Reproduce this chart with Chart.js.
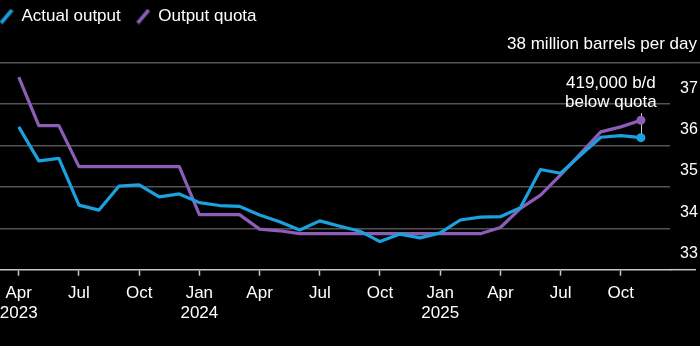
<!DOCTYPE html>
<html><head><meta charset="utf-8">
<style>html,body{margin:0;padding:0;background:#000;overflow:hidden}#wrap{width:700px;height:346px}</style>
<script src="https://cdn.jsdelivr.net/npm/chart.js@4.4.0/dist/chart.umd.min.js"></script>
</head><body><div id="wrap"><canvas id="c" width="700" height="346"></canvas></div>
<script>
const months = ['Apr 2023','May 2023','Jun 2023','Jul 2023','Aug 2023','Sep 2023','Oct 2023','Nov 2023','Dec 2023',
  'Jan 2024','Feb 2024','Mar 2024','Apr 2024','May 2024','Jun 2024','Jul 2024','Aug 2024','Sep 2024','Oct 2024','Nov 2024','Dec 2024',
  'Jan 2025','Feb 2025','Mar 2025','Apr 2025','May 2025','Jun 2025','Jul 2025','Aug 2025','Sep 2025','Oct 2025','Nov 2025'];
const actualOutput = [36.45,35.63,35.69,34.56,34.44,35.02,35.05,34.76,34.83,34.62,34.55,34.53,34.32,34.16,33.96,34.18,34.05,33.93,33.68,33.86,33.77,33.89,34.20,34.27,34.28,34.50,35.42,35.33,35.77,36.20,36.24,36.19];
const outputQuota = [37.65,36.48,36.48,35.49,35.49,35.49,35.49,35.49,35.49,34.33,34.33,34.33,33.98,33.94,33.87,33.87,33.87,33.87,33.87,33.87,33.87,33.87,33.87,33.87,34.02,34.48,34.80,35.29,35.81,36.33,36.45,36.61];
const seriesNames = ['Actual output','Output quota'];
const xTickIndex = [0,3,6,9,12,15,18,21,24,27,30];
const xTickLabels = [['Apr','2023'],'Jul','Oct',['Jan','2024'],'Apr','Jul','Oct',['Jan','2025'],'Apr','Jul','Oct'];
const yTicks = [33,34,35,36,37,38];
const unitLabel = '38 million barrels per day';
const gapNote = ['419,000 b/d','below quota'];

const BLUE = '#1ba1de', PURPLE = '#8d5db8';
const FONT = "'Liberation Sans', Arial, sans-serif";
const last = months.length - 1;

function slash(color){
  const c = document.createElement('canvas'); c.width = 14; c.height = 16;
  const g = c.getContext('2d'); g.strokeStyle = color; g.lineWidth = 3.6; g.lineCap = 'butt';
  g.beginPath(); g.moveTo(1.5,14.5); g.lineTo(12.5,1.5); g.stroke(); return c;
}
const slashes = [slash(BLUE), slash(PURPLE)];

const extras = {
  id: 'extras',
  afterLayout(chart){ chart.legend.left = -16; chart.legend.top = -8; },
  beforeDatasetsDraw(chart){
    const {ctx, chartArea, scales:{x, y}} = chart;
    ctx.save();
    const y38 = y.getPixelForValue(38), y33 = y.getPixelForValue(33);
    ctx.strokeStyle = '#545454'; ctx.lineWidth = 1.5;
    ctx.beginPath(); ctx.moveTo(chartArea.right, y38); ctx.lineTo(700, y38); ctx.stroke();
    ctx.strokeStyle = '#c8c8c8';
    ctx.beginPath(); ctx.moveTo(chartArea.right, y33); ctx.lineTo(696, y33); ctx.stroke();
    ctx.fillStyle = '#fff'; ctx.font = '17px ' + FONT; ctx.textAlign = 'right'; ctx.textBaseline = 'middle';
    ctx.fillText(unitLabel, 697, y38 - 18);
    const px = x.getPixelForValue(last);
    const yA = y.getPixelForValue(actualOutput[last]);
    const yTop = y.getPixelForValue(37) + 9;
    ctx.strokeStyle = '#cfcfcf'; ctx.lineWidth = 1;
    ctx.beginPath(); ctx.moveTo(Math.round(px)+0.5, yTop); ctx.lineTo(Math.round(px)+0.5, yA); ctx.stroke();
    ctx.textAlign = 'center';
    ctx.fillText(gapNote[0], px - 30, y.getPixelForValue(37) - 21);
    ctx.fillText(gapNote[1], px - 30, y.getPixelForValue(37) - 2);
    ctx.restore();
  }
};

const ptR = (ctx) => ctx.dataIndex === last ? 4.5 : 0;

new Chart(document.getElementById('c'), {
  type: 'line',
  data: {
    datasets: [
      {label: seriesNames[0], data: actualOutput.map((v,i)=>({x:i,y:v})), borderColor: BLUE, backgroundColor: BLUE,
       borderWidth: 3.2, pointRadius: ptR, pointBorderWidth: 0, tension: 0, borderJoinStyle: 'round'},
      {label: seriesNames[1], data: outputQuota.map((v,i)=>({x:i,y:v})), borderColor: PURPLE, backgroundColor: PURPLE,
       borderWidth: 3.2, pointRadius: ptR, pointBorderWidth: 0, tension: 0, borderJoinStyle: 'round'}
    ]
  },
  options: {
    responsive: false, animation: false, devicePixelRatio: 1, events: [],
    layout: {autoPadding: false, padding: {top: 19.7, left: 0, right: 0, bottom: 0}},
    plugins: {
      tooltip: {enabled: false},
      legend: {
        position: 'top', align: 'start',
        labels: {
          usePointStyle: true, pointStyleWidth: 13, padding: 16, color: '#fff',
          font: {family: FONT, size: 17},
          generateLabels(chart){
            return chart.data.datasets.map((d,i)=>({text: d.label, fontColor: '#fff', pointStyle: slashes[i], datasetIndex: i, lineWidth: 0, strokeStyle: 'transparent', fillStyle: 'transparent'}));
          }
        }
      }
    },
    scales: {
      x: {
        type: 'linear', min: -0.934, max: 32.45,
        afterBuildTicks(s){ s.ticks = xTickIndex.map(v=>({value:v})); },
        afterFit(s){ s.height = 76.3; s.paddingLeft = 0; s.paddingRight = 0; },
        grid: {drawOnChartArea: false, drawTicks: true, tickLength: 6, tickColor: '#c8c8c8', tickWidth: 1.5},
        border: {display: true, color: '#c8c8c8', width: 1.5},
        ticks: {color: '#fff', font: {family: FONT, size: 17}, padding: 7, maxRotation: 0, autoSkip: false,
          callback(v){ const k = xTickIndex.indexOf(v); return k >= 0 ? xTickLabels[k] : ''; }}
      },
      y: {
        position: 'right', min: 33, max: 38,
        afterBuildTicks(s){ s.ticks = yTicks.map(v=>({value:v})); },
        afterFit(s){ s.width = 30; s.paddingTop = 0; s.paddingBottom = 0; },
        grid: {drawTicks: false, lineWidth: 1.5, color: (c)=> c.tick && c.tick.value === 33 ? 'transparent' : '#545454'},
        border: {display: false},
        ticks: {color: '#fff', font: {family: FONT, size: 16}, padding: 10, labelOffset: -16,
          callback(v){ return v === 38 ? '' : String(v); }}
      }
    }
  },
  plugins: [extras]
});
</script></body></html>
